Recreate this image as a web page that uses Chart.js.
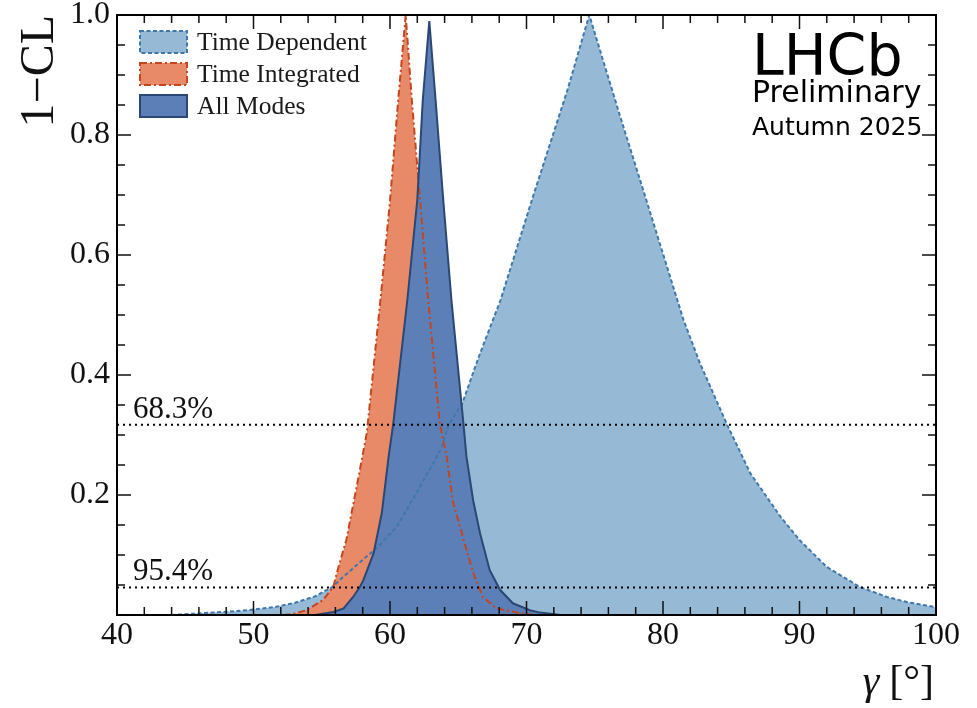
<!doctype html>
<html>
<head>
<meta charset="utf-8">
<title>gamma 1-CL</title>
<script src="https://cdn.jsdelivr.net/npm/chart.js@4.4.1/dist/chart.umd.min.js"></script>
<style>
  html, body { margin: 0; padding: 0; background: #fff; }
  #wrap { width: 977px; height: 708px; position: relative; }
</style>
</head>
<body>
<div id="wrap"><canvas id="cl"></canvas></div>
<script>
// gamma [deg] and 1-CL
var tdGamma = [44.0, 45.5, 47.0, 48.5, 50.0, 51.5, 53.0, 54.5, 55.8, 56.6, 58.0, 59.0, 60.5, 62.2, 63.7, 64.3, 65.3, 66.5, 68.1, 70.4, 73.0, 74.6, 76.9, 78.8, 80.6, 81.5, 82.7, 84.7, 86.4, 88.6, 90.0, 92.0, 94.4, 96.4, 98.0, 100.0];
var tdCL    = [0.000, 0.002, 0.004, 0.006, 0.009, 0.013, 0.020, 0.031, 0.047, 0.064, 0.092, 0.111, 0.147, 0.214, 0.275, 0.317, 0.353, 0.430, 0.525, 0.692, 0.875, 1.000, 0.828, 0.690, 0.558, 0.492, 0.420, 0.317, 0.236, 0.164, 0.125, 0.080, 0.047, 0.030, 0.021, 0.013];

var tiGamma = [52.2, 52.9, 53.9, 55.1, 55.85, 56.1, 56.8, 57.56, 58.3, 59.3, 60.0, 60.6, 61.15, 61.6, 62.2, 62.8, 63.65, 64.15, 64.6, 65.4, 66.1, 66.8, 67.8, 69.3, 70.5];
var tiCL    = [0.000, 0.002, 0.008, 0.025, 0.047, 0.070, 0.125, 0.214, 0.303, 0.525, 0.690, 0.858, 1.000, 0.858, 0.692, 0.525, 0.319, 0.264, 0.190, 0.125, 0.070, 0.030, 0.011, 0.004, 0.000];

var allGamma = [54.5, 55.85, 56.6, 57.3, 57.8, 58.05, 58.8, 59.4, 59.9, 60.24, 61.27, 62.0, 62.4, 62.88, 63.34, 63.9, 64.5, 65.38, 65.6, 66.1, 66.6, 67.3, 68.06, 69.0, 70.25, 71.0, 72.5];
var allCL    = [0.000, 0.005, 0.011, 0.030, 0.047, 0.058, 0.103, 0.170, 0.264, 0.319, 0.525, 0.692, 0.858, 0.990, 0.858, 0.692, 0.525, 0.319, 0.264, 0.190, 0.136, 0.075, 0.042, 0.0195, 0.008, 0.004, 0.000];

var clLevels = [0.317, 0.046];
var clLabels = ['68.3%', '95.4%'];

var xTicks = [40, 50, 60, 70, 80, 90, 100];
var yTicks = [0.2, 0.4, 0.6, 0.8, 1.0];

var serif = '"Liberation Serif", "DejaVu Serif", serif';
var sans = '"DejaVu Sans", sans-serif';

function pts(xs, ys) {
    var out = [];
    for (var i = 0; i < xs.length; i++) out.push({x: xs[i], y: ys[i]});
    return out;
}

var series = [
    {label: 'Time Dependent', data: pts(tdGamma, tdCL), fill: '#96b9d6', line: '#3f78ab', dash: [4, 2.5], order: 3},
    {label: 'Time Integrated', data: pts(tiGamma, tiCL), fill: '#e88a68', line: '#c4461f', dash: [7, 3, 2, 3], order: 2},
    {label: 'All Modes', data: pts(allGamma, allCL), fill: '#5c7fb8', line: '#2b4774', dash: [], order: 1}
];

var datasets = [];
series.forEach(function(s) {
    datasets.push({
        label: s.label,
        data: s.data,
        backgroundColor: s.fill,
        borderColor: s.line,
        borderDash: s.dash,
        borderWidth: 2,
        fill: 'origin',
        pointRadius: 0,
        tension: 0,
        order: s.order
    });
});
clLevels.forEach(function(v, i) {
    datasets.push({
        label: clLabels[i],
        data: [{x: 40, y: v}, {x: 100, y: v}],
        borderColor: '#000',
        borderDash: [2, 4],
        borderWidth: 2,
        fill: false,
        pointRadius: 0,
        order: 0
    });
});

// inward ticks, frame, titles, legend and labels
var decor = {
    id: 'decor',
    afterDraw: function(chart) {
        var ctx = chart.ctx, a = chart.chartArea;
        var xs = chart.scales.x, ys = chart.scales.y;
        ctx.save();
        ctx.setLineDash([]);
        ctx.strokeStyle = '#111';
        ctx.lineWidth = 1.5;
        ctx.beginPath();
        for (var k = 0; k <= 30; k++) {
            var px = xs.getPixelForValue(40 + 2 * k);
            var len = (k % 5 === 0) ? 14 : 8;
            ctx.moveTo(px, a.bottom); ctx.lineTo(px, a.bottom - len);
            ctx.moveTo(px, a.top); ctx.lineTo(px, a.top + len);
        }
        for (var j = 0; j <= 20; j++) {
            var py = ys.getPixelForValue(j * 0.05);
            var ln = (j % 4 === 0) ? 14 : 8;
            ctx.moveTo(a.left, py); ctx.lineTo(a.left + ln, py);
            ctx.moveTo(a.right, py); ctx.lineTo(a.right - ln, py);
        }
        ctx.stroke();
        ctx.strokeStyle = '#000';
        ctx.lineWidth = 2;
        ctx.strokeRect(a.left, a.top, a.right - a.left, a.bottom - a.top);

        // CL labels
        ctx.fillStyle = '#111';
        ctx.font = '31px ' + serif;
        ctx.textAlign = 'left';
        ctx.textBaseline = 'alphabetic';
        clLevels.forEach(function(v, i) {
            ctx.fillText(clLabels[i], a.left + 16, ys.getPixelForValue(v) - 7);
        });

        // legend
        ctx.font = '25.5px ' + serif;
        ctx.textBaseline = 'middle';
        series.forEach(function(s, i) {
            var bx = 140, by = 31 + 32 * i;
            ctx.fillStyle = s.fill;
            ctx.fillRect(bx, by, 47, 22);
            ctx.strokeStyle = s.line;
            ctx.lineWidth = 2;
            ctx.setLineDash(s.dash);
            ctx.strokeRect(bx, by, 47, 22);
            ctx.setLineDash([]);
            ctx.fillStyle = '#1a1a1a';
            ctx.fillText(s.label, 197, by + 12);
        });

        // LHCb stamp
        ctx.fillStyle = '#000';
        ctx.textBaseline = 'alphabetic';
        ctx.font = '57px ' + sans;
        ctx.fillText('LHCb', 752, 75);
        ctx.font = '30px ' + sans;
        ctx.fillText('Preliminary', 752, 102);
        ctx.font = '25px ' + sans;
        ctx.fillText('Autumn 2025', 752, 135);

        // axis titles
        ctx.fillStyle = '#111';
        ctx.font = '42px ' + serif;
        ctx.textAlign = 'right';
        ctx.fillText('[°]', 934, 694);
        var w = ctx.measureText('[°]').width;
        ctx.font = 'italic 42px ' + serif;
        ctx.fillText('γ', 934 - w - 10, 694);

        ctx.save();
        ctx.translate(53, 15);
        ctx.rotate(-Math.PI / 2);
        ctx.font = '48px ' + serif;
        ctx.textAlign = 'right';
        ctx.fillText('1\u2212CL', 0, 0);
        ctx.restore();
        ctx.restore();
    }
};

new Chart(document.getElementById('cl'), {
    type: 'line',
    data: {datasets: datasets},
    options: {
        responsive: true,
        maintainAspectRatio: false,
        animation: false,
        layout: {padding: {top: 15, right: 41, left: 0, bottom: 0}},
        plugins: {
            legend: {display: false},
            tooltip: {enabled: false},
            filler: {drawTime: 'beforeDatasetsDraw'}
        },
        scales: {
            x: {
                type: 'linear',
                min: 40, max: 100,
                afterFit: function(s) { s.height = 93; },
                afterBuildTicks: function(s) { s.ticks = xTicks.map(function(v) { return {value: v}; }); },
                grid: {display: false, drawTicks: false},
                border: {display: false},
                ticks: {color: '#111', padding: 1, font: {family: serif, size: 32, lineHeight: 1.2}}
            },
            y: {
                type: 'linear',
                min: 0, max: 1,
                afterFit: function(s) { s.width = 117; },
                afterBuildTicks: function(s) { s.ticks = yTicks.map(function(v) { return {value: v}; }); },
                grid: {display: false, drawTicks: false},
                border: {display: false},
                ticks: {
                    color: '#111', padding: 7,
                    font: {family: serif, size: 32, lineHeight: 0.4},
                    callback: function(v) { return v.toFixed(1); }
                }
            }
        }
    },
    plugins: [decor]
});
</script>
</body>
</html>
